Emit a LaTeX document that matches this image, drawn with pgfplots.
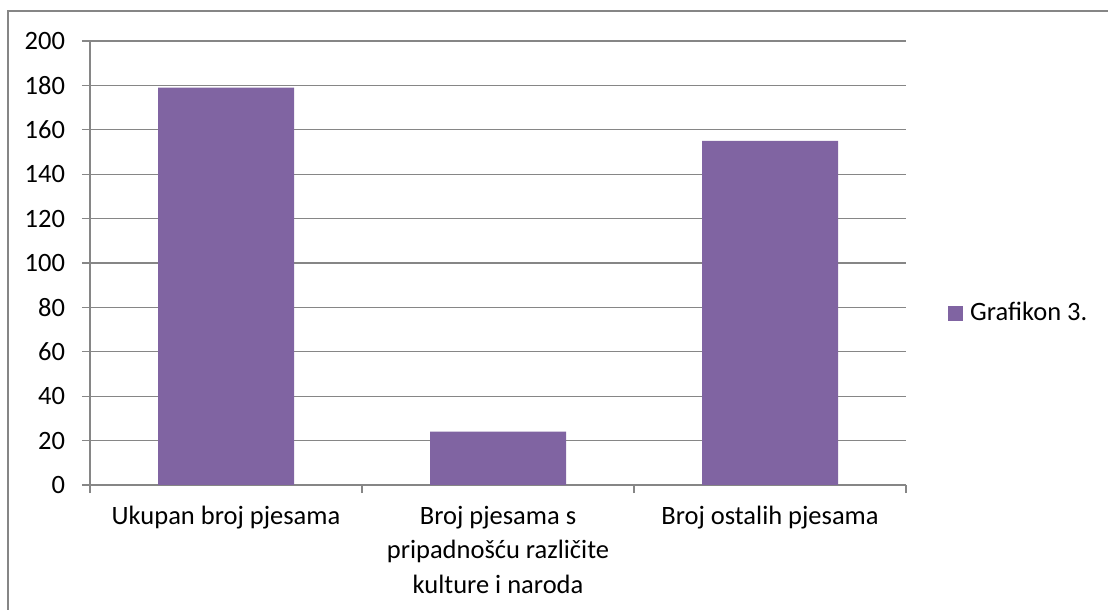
\documentclass[border=0pt]{standalone}
\usepackage{fontspec}
\setmainfont{Carlito}
\usepackage{pgfplots}
\pgfplotsset{compat=1.18}
\definecolor{barc}{HTML}{8064A2}
\definecolor{gridc}{HTML}{868686}
\newcommand{\chfont}{\fontsize{26.5}{34.5}\selectfont}
\begin{document}
\chfont
\begin{tikzpicture}[x=1pt,y=1pt]
\useasboundingbox (0,0) rectangle (1108,610);
\draw[gridc, line width=1.3pt] (8,-5) -- (8,599) -- (1115,599);
\begin{axis}[
    at={(90pt,125pt)}, anchor=south west,
    scale only axis, width=816pt, height=444pt,
    ybar, bar width=136pt,
    xmin=-0.5, xmax=2.5, ymin=0, ymax=200,
    ytick distance=20,
    xtick={0,1,2},
    xticklabels={Ukupan broj pjesama, Broj pjesama s\\pripadnošću različite\\kulture i naroda, Broj ostalih pjesama},
    xticklabel style={align=center, anchor=north, yshift=-4pt},
    yticklabel style={xshift=-8pt},
    major x tick style={draw=none},
    minor xtick={-0.5,0.5,1.5,2.5},
    tick align=outside,
    major tick length=8pt, minor tick length=8pt,
    tick style={gridc, line width=1.3pt},
    axis x line*=bottom, axis y line*=left,
    axis line style={gridc, line width=1.3pt},
    ymajorgrids, grid style={gridc, line width=1.1pt},
    /pgf/number format/assume math mode=true,
    ticklabel style={font=\chfont},
    legend style={at={(1.0515,0.387)}, anchor=west, draw=none, fill=none,
        inner sep=0pt, nodes={inner sep=0pt, font=\chfont},
        /tikz/every odd column/.style={column sep=7pt}},
    legend image code/.code={\fill[barc] (0pt,-7.5pt) rectangle (15pt,7.5pt);},
]
\addplot[fill=barc, draw=none] coordinates {(0,179) (1,24) (2,155)};
\addlegendentry{Grafikon 3.}
\end{axis}
\end{tikzpicture}
\end{document}
